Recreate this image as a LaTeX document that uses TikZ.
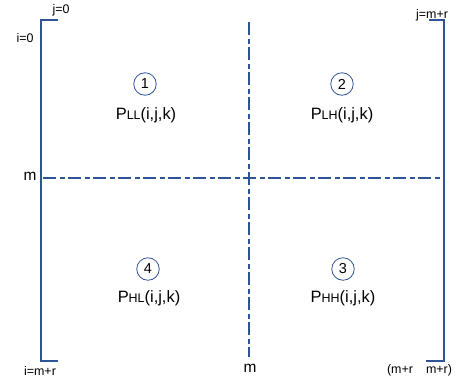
\documentclass[tikz,border=0pt]{standalone}
\usepackage{fontspec}
\setmainfont{Liberation Sans}
\definecolor{lineblue}{RGB}{47,84,150}
\newcommand{\sub}[1]{{\fontsize{12.5}{12.5}\selectfont #1}}
\begin{document}
\begin{tikzpicture}[x=1bp,y=-1bp,
  bracket/.style={draw=lineblue,line width=1.9bp},
  axisline/.style={draw=lineblue,line width=1.6bp,dash pattern=on 13bp off 3.5bp on 5bp off 3.5bp},
  small/.style={font=\fontsize{12.5}{12.5}\selectfont,inner sep=0pt},
  big/.style={font=\fontsize{15.5}{15.5}\selectfont,inner sep=0pt},
  plabel/.style={font=\fontsize{16.5}{17}\selectfont,inner sep=0pt},
  num/.style={circle,draw=lineblue,line width=0.8bp,minimum size=22.5bp,inner sep=0pt,font=\fontsize{14.5}{14.5}\selectfont}]
\useasboundingbox (0,0) rectangle (458,381);
% brackets
\coordinate (lt) at (58,20);
\coordinate (ltc) at (41,20);
\coordinate (lbc) at (41,361);
\coordinate (lb) at (58,361);
\coordinate (rt) at (429,20);
\coordinate (rtc) at (444,20);
\coordinate (rbc) at (444,361);
\coordinate (rb) at (426,361);
\draw[bracket] (lt) -- (ltc) -- (lbc) -- (lb);
\draw[bracket] (rt) -- (rtc) -- (rbc) -- (rb);
% axes
\coordinate (hl) at (43,178);
\coordinate (hr) at (442,178);
\coordinate (vt) at (249,22);
\coordinate (vb) at (249,357);
\draw[axisline] (hl) -- (hr);
\draw[axisline] (vt) -- (vb);
% labels
\node[small] (j0) at (61,10) {j=0};
\node[small] (i0) at (25,38) {i=0};
\node[small] (jmr) at (432,15) {j=m+r};
\node[small] (imr) at (40,371) {i=m+r};
\node[small] (mr1) at (400,370) {(m+r};
\node[small] (mr2) at (439,370) {m+r)};
\node[big] (mleft) at (30,176) {m};
\node[big] (mbot) at (250,368) {m};
% quadrants
\node[num] (n1) at (145,84) {1};
\node[num] (n2) at (342,84) {2};
\node[num] (n4) at (148,269) {4};
\node[num] (n3) at (343,269) {3};
\node[plabel] (pll) at (146,115) {P\sub{LL}(i,j,k)};
\node[plabel] (plh) at (342,115) {P\sub{LH}(i,j,k)};
\node[plabel] (phl) at (149,298) {P\sub{HL}(i,j,k)};
\node[plabel] (phh) at (343,298) {P\sub{HH}(i,j,k)};
\end{tikzpicture}
\end{document}
